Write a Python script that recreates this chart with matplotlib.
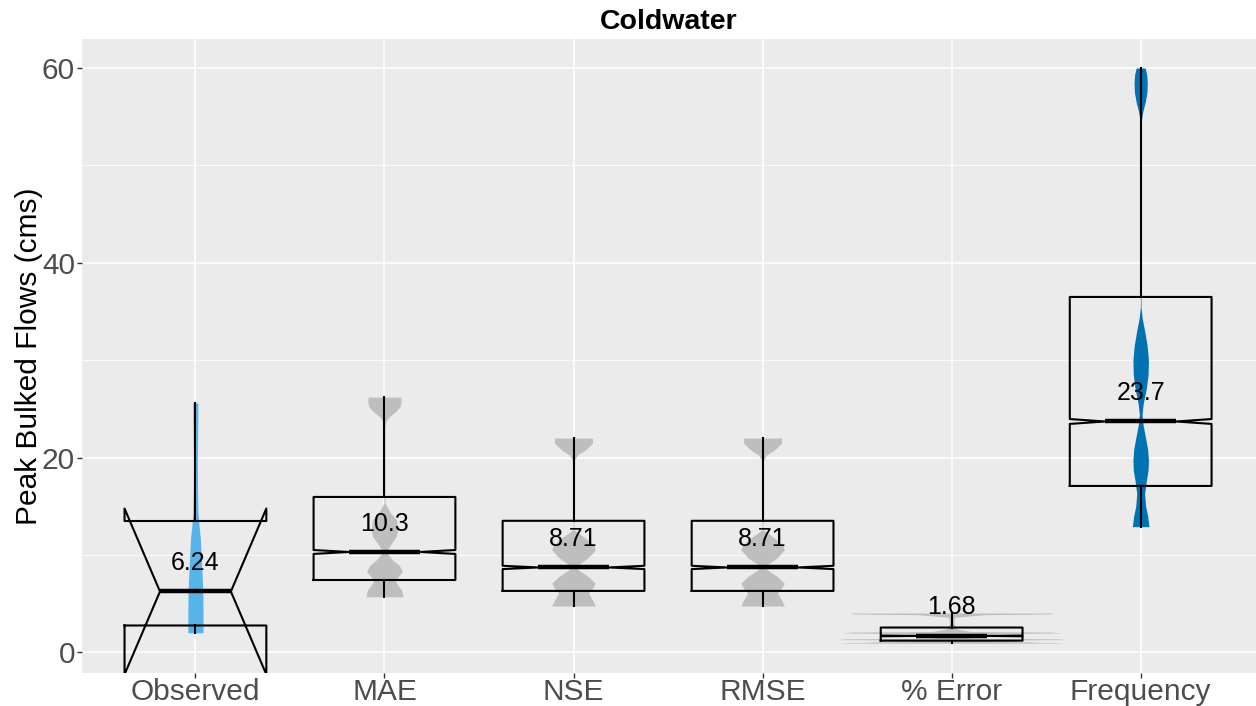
import numpy as np
import matplotlib
matplotlib.use("Agg")
import matplotlib.pyplot as plt

plt.rcParams["font.family"] = ["Liberation Sans", "DejaVu Sans"]

# categories along the x axis
categories = ["Observed", "MAE", "NSE", "RMSE", "% Error", "Frequency"]

# box summaries per category (cms)
medians = [6.24, 10.3, 8.71, 8.71, 1.68, 23.7]
q1_vals = [2.75, 7.42, 6.30, 6.30, 1.19, 17.08]
q3_vals = [13.48, 15.95, 13.50, 13.50, 2.54, 36.49]
whisk_lo = [2.0, 5.7, 4.75, 4.75, 0.92, 12.9]
whisk_hi = [25.6, 26.2, 22.0, 22.0, 4.03, 60.0]
notch_lo = [-2.28, 10.1, 8.54, 8.54, 1.64, 23.45]
notch_hi = [14.76, 10.5, 8.88, 8.88, 1.72, 23.95]

# violin outlines: flow levels and half widths (x units)
obs_y = [2.0, 4.0, 6.2, 8.0, 10.0, 11.7, 13.0, 14.5, 17.0, 19.5, 22.5, 25.6]
obs_w = [0.040, 0.040, 0.039, 0.035, 0.030, 0.026, 0.019, 0.013, 0.011, 0.010, 0.012, 0.013]

mae_y = [5.7, 6.0, 6.4, 6.8, 7.25, 7.7, 8.3, 8.9, 9.5, 10.0, 10.3, 10.7, 11.2,
         11.9, 12.7, 13.6, 14.3, 15.3, 20.0, 23.2, 23.7, 24.2, 24.7, 25.2, 25.7, 26.2]
mae_w = [0.098, 0.095, 0.090, 0.074, 0.058, 0.069, 0.095, 0.079, 0.042, 0.021,
         0.011, 0.021, 0.037, 0.063, 0.070, 0.063, 0.032, 0.003, 0.002, 0.003,
         0.008, 0.026, 0.058, 0.082, 0.088, 0.087]

nse_y = [4.75, 5.37, 6.06, 6.57, 7.08, 7.76, 8.45, 8.79, 8.96, 9.65, 10.5,
         11.02, 11.87, 12.56, 16.0, 19.75, 20.26, 20.77, 21.46, 22.0]
nse_w = [0.115, 0.100, 0.079, 0.100, 0.115, 0.079, 0.026, 0.013, 0.021, 0.074,
         0.115, 0.106, 0.053, 0.003, 0.002, 0.005, 0.021, 0.063, 0.100, 0.100]

rmse_y = nse_y
rmse_w = nse_w

err_y = [0.92, 0.97, 1.01, 1.04, 1.09, 1.13, 1.20, 1.26, 1.30, 1.38, 1.44,
         1.55, 1.75, 1.92, 1.98, 2.07, 2.13, 2.40, 3.00, 3.60, 3.86, 3.93, 4.03]
err_w = [0.608, 0.560, 0.180, 0.476, 0.420, 0.140, 0.300, 0.170, 0.608, 0.560,
         0.120, 0.050, 0.042, 0.180, 0.581, 0.530, 0.100, 0.026, 0.011, 0.016,
         0.180, 0.520, 0.539]

freq_y = [12.9, 14.0, 15.0, 16.3, 17.5, 18.7, 19.7, 20.8, 22.0, 23.3, 24.4,
          25.5, 27.0, 28.5, 30.0, 31.5, 33.0, 34.3, 35.4, 45.0, 54.4, 55.5,
          56.5, 57.5, 58.5, 59.3, 60.0]
freq_w = [0.044, 0.037, 0.026, 0.021, 0.029, 0.039, 0.041, 0.037, 0.026, 0.013,
          0.007, 0.013, 0.029, 0.039, 0.041, 0.034, 0.021, 0.008, 0.002, 0.001,
          0.002, 0.011, 0.024, 0.033, 0.035, 0.032, 0.024]

violin_y = [obs_y, mae_y, nse_y, rmse_y, err_y, freq_y]
violin_w = [obs_w, mae_w, nse_w, rmse_w, err_w, freq_w]
violin_colors = ["#56B4E9", "#BEBEBE", "#BEBEBE", "#BEBEBE", "#BEBEBE", "#0072B2"]

fig = plt.figure(figsize=(12.56, 7.06), dpi=100)
ax = fig.add_axes([82 / 1256, 1 - 673 / 706, (1256 - 82) / 1256, (673 - 39) / 706])
ax.set_facecolor("#EBEBEB")

positions = np.arange(1, len(categories) + 1)

# violins first so the boxes sit on top
for pos, ys, ws, col in zip(positions, violin_y, violin_w, violin_colors):
    ys = np.asarray(ys)
    ws = np.asarray(ws)
    ax.fill_betweenx(ys, pos - ws, pos + ws, color=col, lw=0, zorder=2)

stats = []
for i, name in enumerate(categories):
    stats.append(dict(label=name, med=medians[i], q1=q1_vals[i], q3=q3_vals[i],
                      whislo=whisk_lo[i], whishi=whisk_hi[i],
                      cilo=notch_lo[i], cihi=notch_hi[i], fliers=[]))

ax.bxp(stats, positions=positions, widths=0.75, shownotches=True,
       showcaps=False, showfliers=False, patch_artist=False,
       boxprops=dict(color="black", lw=1.5),
       whiskerprops=dict(color="black", lw=1.5),
       medianprops=dict(color="black", lw=3.2, solid_capstyle="butt"),
       zorder=3)

# median labels
for pos, med in zip(positions, medians):
    ax.text(pos, med + 2.2, f"{med:.3g}", ha="center", va="baseline",
            fontsize=18, color="black", zorder=4)

ax.set_xlim(0.4, 6.61)
ax.set_ylim(-2.13, 62.98)
ax.set_xticks(positions)
ax.set_xticklabels(categories)
ax.set_yticks([0, 20, 40, 60])
ax.set_yticks([10, 30, 50], minor=True)
ax.grid(which="major", color="white", lw=1.2)
ax.grid(which="minor", axis="y", color="white", lw=0.6)
ax.set_axisbelow(True)
for sp in ax.spines.values():
    sp.set_visible(False)
ax.tick_params(axis="both", which="major", length=3.5, width=1, color="#333333",
               labelsize=21.5, labelcolor="#4D4D4D", pad=1.5)
ax.tick_params(axis="x", which="major", pad=0)
ax.tick_params(axis="both", which="minor", length=0)

ax.set_title("Coldwater", fontsize=20.5, fontweight="bold", pad=7)
fig.text(29 / 1256, 1 - 356 / 706, "Peak Bulked Flows (cms)", rotation=90,
         ha="center", va="center", fontsize=21.5, color="black")

fig.savefig("out.png", dpi=100)
